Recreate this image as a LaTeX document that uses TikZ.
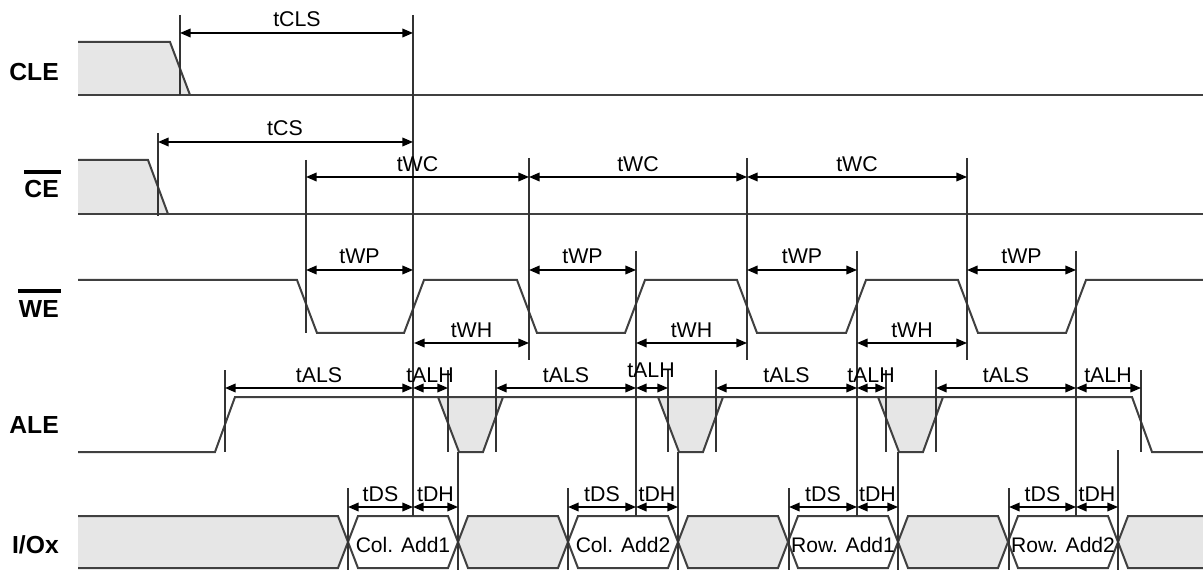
\documentclass[tikz,border=0pt]{standalone}
\usepackage{fontspec}
\setmainfont{Liberation Sans}
\usetikzlibrary{arrows.meta}
\definecolor{lgray}{HTML}{E6E6E6}
\definecolor{sigc}{HTML}{404040}
\tikzset{
  sig/.style={draw=sigc, line width=1.5pt, line join=miter},
  tl/.style={draw=black!80, line width=0.8pt},
  dim/.style={draw=black, line width=1.1pt, {Triangle[length=8pt,width=6.5pt]}-{Triangle[length=8pt,width=6.5pt]}},
  lbl/.style={anchor=base, inner sep=0pt, font=\fontsize{16}{18}\selectfont},
  sname/.style={anchor=base east, inner sep=0pt, font=\fontsize{18.5}{21}\selectfont\bfseries},
  bar/.style={draw=black, line width=2.3pt},
  dlbl/.style={anchor=base, inner sep=0pt, font=\fontsize{15.8}{18}\selectfont},
}
\begin{document}
\begin{tikzpicture}[x=0.75pt,y=-0.75pt]
\useasboundingbox (0,0) rectangle (1203,570);

% ---------- signal names ----------
\node[sname] (nCLE) at (59,81) {CLE};
\node[sname] (nCE) at (59,198) {CE};
\node[sname] (nWE) at (59,317) {WE};
\node[sname] (nALE) at (59,433) {ALE};
\node[sname] (nIO) at (59,553) {I/Ox};
\draw[bar] (24,172) -- (61,172);
\draw[bar] (18,291) -- (61,291);

% ---------- CLE ----------
\fill[lgray] (78,42) -- (170,42) -- (190,95) -- (78,95) -- cycle;
\draw[sig] (78,42) -- (170,42) -- (190,95);
\draw[sig] (78,95) -- (1203,95);

% ---------- CE ----------
\fill[lgray] (78,160) -- (148,160) -- (168,214) -- (78,214) -- cycle;
\draw[sig] (78,160) -- (148,160) -- (168,214);
\draw[sig] (78,214) -- (1203,214);

% ---------- WE ----------
\draw[sig] (78,280) -- (297,280) -- (317,333) -- (404,333) -- (424,280)
  -- (517,280) -- (537,333) -- (625,333) -- (645,280)
  -- (737,280) -- (757,333) -- (846,333) -- (866,280)
  -- (958,280) -- (978,333) -- (1066,333) -- (1086,280) -- (1203,280);

% ---------- ALE ----------
\foreach \s in {0,220,440}{
  \filldraw[sig, fill=lgray] ({438+\s},397) -- ({459+\s},452) -- ({483+\s},452) -- ({503+\s},397);
}
\draw[sig] (78,452) -- (215,452) -- (235,397) -- (1132,397) -- (1152,452) -- (1203,452);

% ---------- I/Ox ----------
\fill[lgray] (78,516) -- (338,516) -- (348,542) -- (338,568) -- (78,568) -- cycle;
\draw[sig] (78,516) -- (338,516) -- (348,542) -- (338,568) -- (78,568);
\foreach \c/\g in {348/0,458/1,568/0,678/1,788/0,898/1,1008/0}{
  \ifnum\g=1
    \filldraw[sig, fill=lgray] (\c,542) -- ({\c+10},516) -- ({\c+100},516) -- ({\c+110},542) -- ({\c+100},568) -- ({\c+10},568) -- cycle;
  \else
    \draw[sig] (\c,542) -- ({\c+10},516) -- ({\c+100},516) -- ({\c+110},542) -- ({\c+100},568) -- ({\c+10},568) -- cycle;
  \fi
}
\fill[lgray] (1118,542) -- (1128,516) -- (1203,516) -- (1203,568) -- (1128,568) -- cycle;
\draw[sig] (1203,516) -- (1128,516) -- (1118,542) -- (1128,568) -- (1203,568);
\node[dlbl] (d1) at (403,552) {Col. Add1};
\node[dlbl] (d2) at (623,552) {Col. Add2};
\node[dlbl] (d3) at (843,552) {Row. Add1};
\node[dlbl] (d4) at (1063,552) {Row. Add2};

% ---------- timing reference lines ----------
\foreach \x/\a/\b in {180/15/95, 413/15/516, 158/133/216, 306/160/333,
  529/158/360, 747/158/360, 967/158/360,
  636/251/516, 857/251/516, 1076/251/516,
  225/370/452, 448/370/452, 496/370/452, 668/370/452, 716/370/452,
  886/370/452, 936/370/452, 1141/370/452,
  458/452/570, 678/452/570, 898/452/570, 1118/450/570,
  348/488/570, 568/488/570, 789/488/570, 1009/488/570}{
  \draw[tl] (\x,\a) -- (\x,\b);
}

% ---------- dimension arrows ----------
\draw[dim] (180,33) -- (413,33);
\node[lbl] (lCLS) at (297,27) {tCLS};
\draw[dim] (158,142) -- (413,142);
\node[lbl] (lCS) at (285,136) {tCS};

\foreach \a/\b in {306/529, 529/747, 747/967}{
  \draw[dim] (\a,177) -- (\b,177);
  \node[lbl] at ({(\a+\b)/2},172) {tWC};
}
\foreach \a/\b in {306/413, 529/636, 747/857, 967/1076}{
  \draw[dim] (\a,270) -- (\b,270);
  \node[lbl] at ({(\a+\b)/2},264) {tWP};
}
\foreach \a/\b in {414/529, 636/747, 857/967}{
  \draw[dim] (\a,343) -- (\b,343);
  \node[lbl] at ({(\a+\b)/2},337) {tWH};
}
\foreach \a/\b in {225/413, 496/636, 716/857, 936/1076}{
  \draw[dim] (\a,388) -- (\b,388);
  \node[lbl] at ({(\a+\b)/2},382) {tALS};
}
\foreach \a/\b/\m/\y in {413/448/430/382, 636/668/651/378, 857/886/871/382, 1076/1141/1108/382}{
  \draw[dim] (\a,388) -- (\b,388);
  \node[lbl] at (\m,\y) {tALH};
}
\foreach \a/\b in {348/413, 568/636, 789/857, 1009/1076}{
  \draw[dim] (\a,507) -- (\b,507);
  \node[lbl] at ({(\a+\b)/2},501) {tDS};
}
\foreach \a/\b in {413/458, 636/678, 857/898, 1076/1118}{
  \draw[dim] (\a,507) -- (\b,507);
  \node[lbl] at ({(\a+\b)/2},501) {tDH};
}
\end{tikzpicture}
\end{document}
